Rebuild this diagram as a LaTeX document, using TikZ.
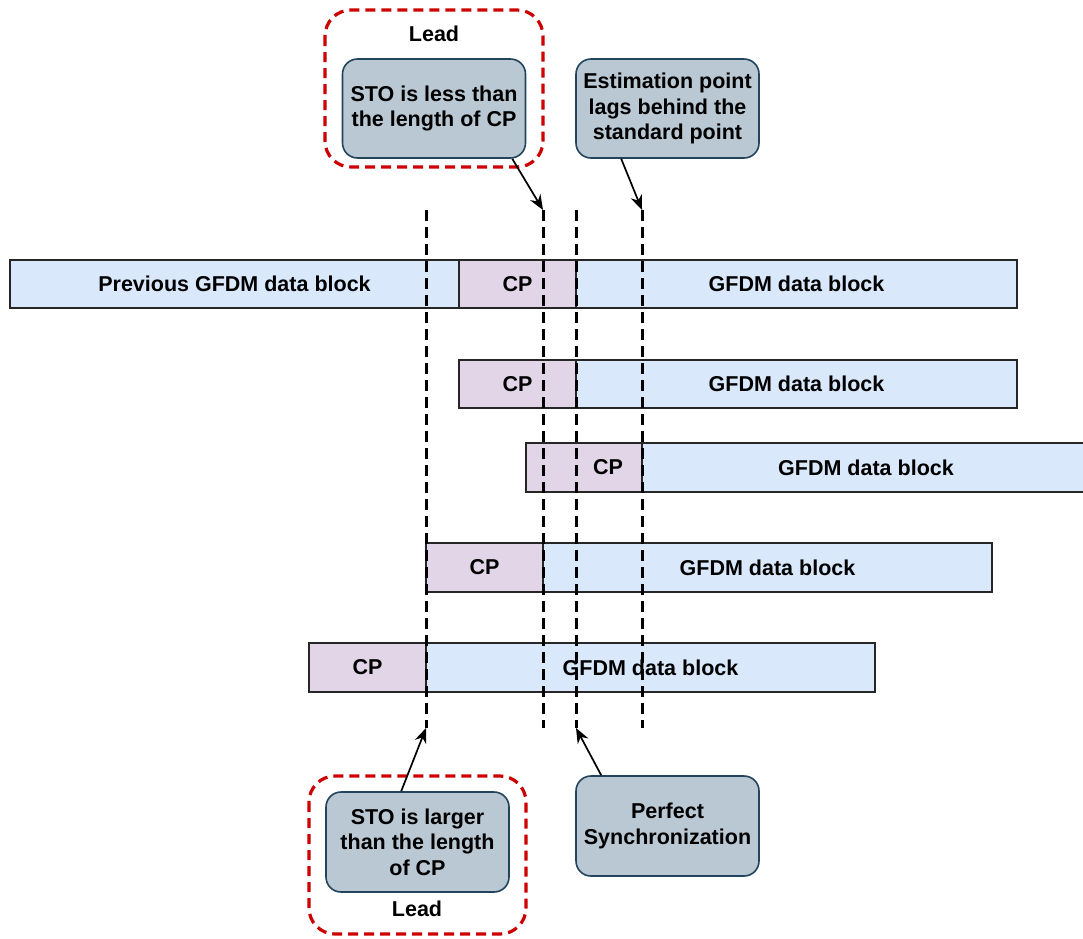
\documentclass[tikz,border=0pt]{standalone}
\usepackage{fontspec}
\setmainfont{Liberation Sans}
\usetikzlibrary{arrows.meta,calc}
\definecolor{datafill}{HTML}{DAE8FC}
\definecolor{cpfill}{HTML}{E1D5E7}
\definecolor{notefill}{HTML}{BAC8D3}
\definecolor{notedraw}{HTML}{23445D}
\definecolor{leadred}{HTML}{CC0000}
\begin{document}
\begin{tikzpicture}[x=1pt,y=-1pt,
  txt/.style={font=\bfseries\fontsize{21.5}{25.5}\selectfont},
  blk/.style={txt, draw=black!85, line width=1.6pt, minimum height=48pt, inner sep=0pt},
  data/.style={blk, fill=datafill},
  cp/.style={blk, fill=cpfill, minimum width=117pt},
  note/.style={txt, draw=notedraw, fill=notefill, line width=1.6pt, rounded corners=15pt,
    minimum width=183pt, minimum height=99pt, align=center, inner sep=0pt},
  leadbox/.style={draw=leadred, line width=3.2pt, dash pattern=on 10pt off 6pt, rounded corners=26pt},
  sync/.style={line width=3pt, dash pattern=on 11pt off 6pt},
  pointer/.style={line width=1.7pt, -{Stealth[length=15pt,width=12pt]}}
]
\useasboundingbox (0,0) rectangle (1083,938);

% rows of received blocks
\node[data, minimum width=449pt] (prev) at (234.5,284) {Previous GFDM data block};
\node[cp] (cp1) at (517.5,284) {CP};
\node[data, minimum width=441pt] (g1) at (796.5,284) {GFDM data block};

\node[cp] (cp2) at (517.5,384) {CP};
\node[data, minimum width=441pt] (g2) at (796.5,384) {GFDM data block};

\node[cp, minimum width=116pt, minimum height=49pt, label={[txt, xshift=24pt]center:CP}] (cp3) at (584,467.5) {};
\node[data, minimum width=448pt, minimum height=49pt] (g3) at (866,467.5) {GFDM data block};

\node[cp, minimum height=49pt] (cp4) at (484.5,567.5) {CP};
\node[data, minimum width=449pt, minimum height=49pt] (g4) at (767.5,567.5) {GFDM data block};

\node[cp, minimum height=49pt] (cp5) at (367.5,667.5) {CP};
\node[data, minimum width=449pt, minimum height=49pt] (g5) at (650.5,667.5) {GFDM data block};

% timing reference lines
\foreach \n/\x in {a/426, b/543, c/576, d/642} {
  \coordinate (\n-top) at (\x,210);
  \coordinate (\n-bot) at (\x,728);
  \draw[sync] (\n-top) -- (\n-bot);
}

% lead regions
\draw[leadbox] (325,10) rectangle (543,167);
\node[txt] (leadtop) at (434,34) {Lead};
\draw[leadbox] (309,776) rectangle (526,934);
\node[txt] (leadbot) at (417,909) {Lead};

% annotations
\node[note] (less) at (434,108.5) {STO is less than\\the length of CP};
\node[note] (lag) at (667.5,108.5) {Estimation point\\lags behind the\\standard point};
\node[note, minimum height=100pt] (larger) at (417.5,842) {STO is larger\\than the length\\of CP};
\node[note, minimum height=100pt] (perfect) at (667.5,826) {Perfect\\Synchronization};

\draw[pointer] ($(less.south east)+(-14,0)$) -- (b-top);
\draw[pointer] ($(lag.south west)+(46,0)$) -- (d-top);
\draw[pointer] ($(larger.north west)+(76,0)$) -- (a-bot);
\draw[pointer] ($(perfect.north west)+(26,0)$) -- (c-bot);
\end{tikzpicture}
\end{document}
